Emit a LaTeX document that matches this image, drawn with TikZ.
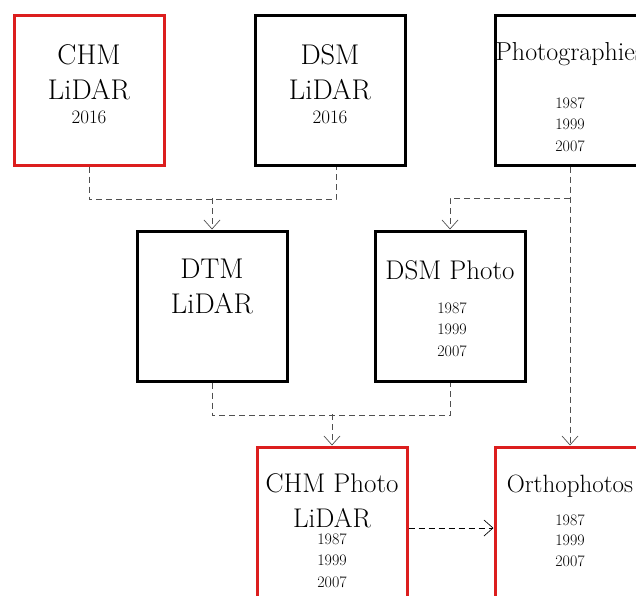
\documentclass[tikz,border=0pt]{standalone}
\usetikzlibrary{arrows.meta}
\definecolor{boxred}{RGB}{220,30,30}
\definecolor{linkgray}{RGB}{80,80,80}
\tikzset{
  box/.style={draw, line width=3pt, minimum size=150pt, inner sep=0pt},
  redbox/.style={box, draw=boxred},
  link/.style={draw=linkgray, line width=0.8pt, dash pattern=on 6pt off 4pt},
  tip/.style={-{Straight Barb[length=9pt,width=16pt,line width=0.7pt]}},
  title/.style={font=\fontsize{28.5}{35}\selectfont, align=center, inner sep=0pt, anchor=base},
  longtitle/.style={title, font=\fontsize{26}{35}\selectfont},
  years/.style={font=\fontsize{16}{21.5}\selectfont, align=center, inner sep=0pt, anchor=base},
}
\begin{document}
\begin{tikzpicture}[x=1pt,y=-1pt]
\useasboundingbox (0,0) rectangle (636,595);
% Premiere ligne
\node[redbox] (chmlidar) at (89,90) {};
\node[title] (chmlidar-t) at (89,99) {CHM\\LiDAR};
\node[years, font=\fontsize{19}{22}\selectfont] (chmlidar-y) at (89,123) {2016};
\node[box] (dsmlidar) at (330,90) {};
\node[title] (dsmlidar-t) at (330,99) {DSM\\LiDAR};
\node[years, font=\fontsize{19}{22}\selectfont] (dsmlidar-y) at (330,123) {2016};
\node[box] (photos) at (570,90) {};
\node[longtitle] (photos-t) at (570,60) {Photographies};
\node[years] (photos-y) at (570,151) {1987\\1999\\2007};

% Deuxieme ligne
\node[box] (dtmlidar) at (212,306) {};
\node[title] (dtmlidar-t) at (212,313) {DTM\\LiDAR};
\node[box] (dsmphoto) at (450,306) {};
\node[longtitle, font=\fontsize{27}{35}\selectfont] (dsmphoto-t) at (450,279) {DSM Photo};
\node[years] (dsmphoto-y) at (452,356) {1987\\1999\\2007};

% Troisieme ligne
\node[redbox] (chmphoto) at (332,522) {};
\node[longtitle, font=\fontsize{27}{35}\selectfont] (chmphoto-t) at (332,527) {CHM Photo\\LiDAR};
\node[years] (chmphoto-y) at (332,587) {1987\\1999\\2007};
\node[redbox] (ortho) at (570,522) {};
\node[longtitle, font=\fontsize{25}{35}\selectfont] (ortho-t) at (570,492) {Orthophotos};
\node[years, font=\fontsize{16}{20.5}\selectfont] (ortho-y) at (570,566) {1987\\1999\\2007};

% Liens
\coordinate (lidarjoin) at (212,198);
\coordinate (photojoin) at (570,198);
\coordinate (dtmjoin) at (332,414);
\draw[link] (chmlidar.south) -- ++(0,33) -| ([xshift=6pt]dsmlidar.south);
\draw[link,tip] (lidarjoin) -- (dtmlidar.north);
\draw[link,tip] (photos.south) -- (ortho.north);
\draw[link,tip] (photojoin) -| (dsmphoto.north);
\draw[link] (dtmlidar.south) -- ++(0,33) -| (dsmphoto.south);
\draw[link,tip] (dtmjoin) -- (chmphoto.north);
\draw[link,draw=black,tip] ([yshift=-6pt]chmphoto.east) -- ([yshift=-6pt]ortho.west);
\end{tikzpicture}
\end{document}
